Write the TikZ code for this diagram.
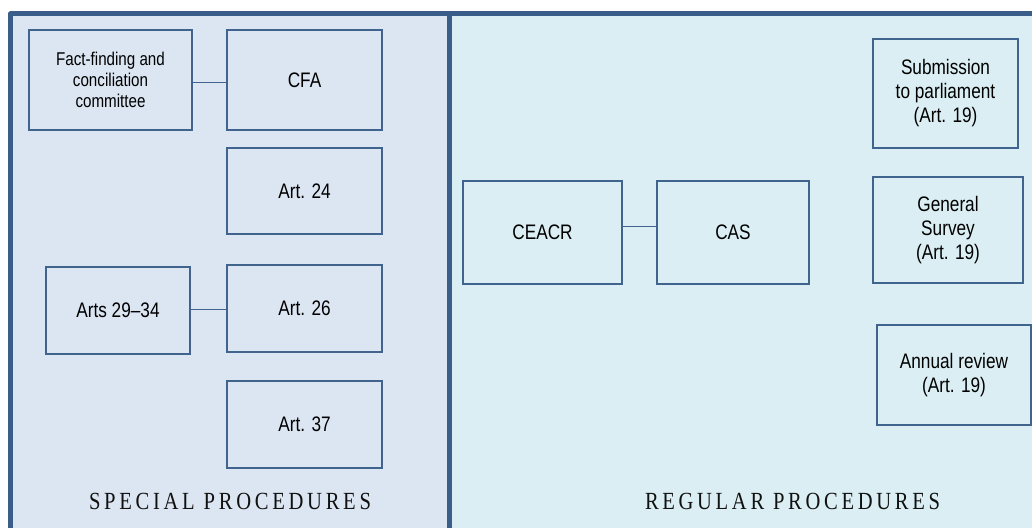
\documentclass[tikz,border=0pt]{standalone}
\usepackage{fontspec}
\usepackage{graphicx}
\setmainfont{Liberation Sans}[FakeStretch=0.82]
\newfontfamily\capfont{Liberation Serif}[LetterSpace=18]
\definecolor{framecol}{HTML}{3B5D8A}
\definecolor{boxline}{HTML}{41648F}
\definecolor{leftfill}{HTML}{DCE6F2}
\definecolor{rightfill}{HTML}{DAEEF3}
\definecolor{labeltext}{HTML}{111111}
\tikzset{
  procbox/.style={draw=boxline, line width=1.1pt, inner sep=0pt, align=center,
    font=\fontsize{21}{24}\selectfont, text=black},
  smallbox/.style={procbox, font=\fontsize{18.5}{21}\selectfont},
  link/.style={draw=boxline, line width=1.1pt},
  frameline/.style={draw=framecol, line width=5pt, line join=round},
  panelabel/.style={inner sep=0pt, anchor=base, text=labeltext}
}
\begin{document}
\begin{tikzpicture}[x=1pt,y=-1pt]
\useasboundingbox (0,0) rectangle (1032,527);
\begin{scope}
  \clip (0,0) rectangle (1032,527);
  \fill[white] (0,0) rectangle (1032,527);
  \fill[leftfill] (10.5,14) rectangle (449,545);
  \fill[rightfill] (449,14) rectangle (1045,545);
  \draw[frameline] (10.5,545) -- (10.5,14) -- (1045,14);
  \draw[frameline] (449,14) -- (449,545);
\end{scope}

% special procedures
\node[smallbox, minimum width=163pt, minimum height=100pt] (ff) at (110.5,80) {Fact-finding and\\conciliation\\committee};
\node[procbox, minimum width=155pt, minimum height=100pt] (cfa) at (304.5,80) {CFA};
\node[procbox, minimum width=155pt, minimum height=86pt] (a24) at (304.5,191) {Art. 24};
\node[procbox, minimum width=155pt, minimum height=87pt] (a26) at (304.5,308.5) {Art. 26};
\node[procbox, minimum width=144pt, minimum height=87pt] (a29) at (118,310.5) {Arts 29–34};
\node[procbox, minimum width=155pt, minimum height=87pt] (a37) at (304.5,424.5) {Art. 37};

% regular procedures
\node[procbox, minimum width=159pt, minimum height=103pt] (ceacr) at (542.5,232.5) {CEACR};
\node[procbox, minimum width=152pt, minimum height=103pt] (cas) at (733,232.5) {CAS};
\node[procbox, minimum width=145pt, minimum height=109pt] (sub) at (945.5,93.5) {Submission\\to parliament\\(Art. 19)};
\node[procbox, minimum width=150pt, minimum height=106pt] (gs) at (948,230) {General\\Survey\\(Art. 19)};
\node[procbox, minimum width=154pt, minimum height=100pt] (ar) at (954,375) {Annual review\\(Art. 19)};

% connectors
\draw[link] ([yshift=-2.5pt]ff.east) -- ([yshift=-2.5pt]cfa.west);
\draw[link] ([yshift=1pt]a29.east) -- ([yshift=-1pt]a26.west);
\draw[link] ([yshift=6pt]ceacr.east) -- ([yshift=6pt]cas.west);

% pane labels
\node[panelabel] (lspecial) at (230,509.3) {\resizebox{282pt}{16.3pt}{\capfont SPECIAL PROCEDURES}};
\node[panelabel] (lregular) at (792.5,509.3) {\resizebox{295pt}{16.3pt}{\capfont REGULAR PROCEDURES}};
\end{tikzpicture}
\end{document}
